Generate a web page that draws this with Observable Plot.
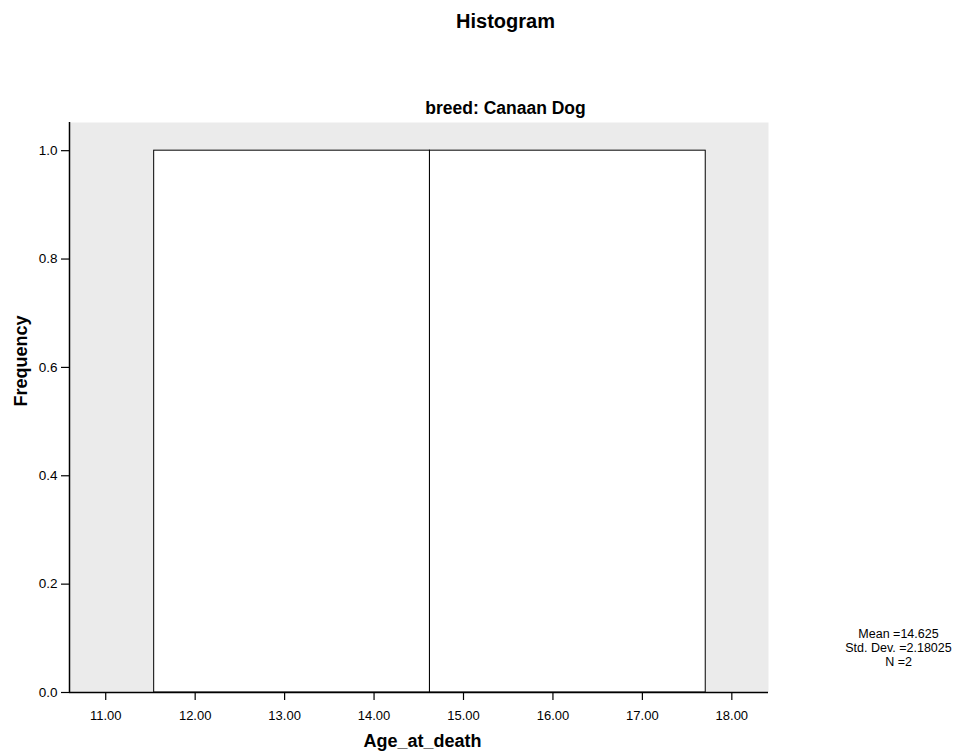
<!DOCTYPE html>
<html>
<head>
<meta charset="utf-8">
<script src="https://cdn.jsdelivr.net/npm/d3@7"></script>
<script src="https://cdn.jsdelivr.net/npm/@observablehq/plot@0.6"></script>
<style>
  html, body { margin: 0; padding: 0; background: #ffffff; }
</style>
</head>
<body>
<div id="chart"></div>
<script>
// ---- data ----
const title = "Histogram";
const panelLabel = "breed: Canaan Dog";
const xLabel = "Age_at_death";
const yLabel = "Frequency";
const binStart = [11.5417, 14.625];
const binEnd = [14.625, 17.7083];
const frequency = [1, 1];
const xTicks = [11, 12, 13, 14, 15, 16, 17, 18];
const yTicks = [0, 0.2, 0.4, 0.6, 0.8, 1.0];
const xDomain = [10.595, 18.41];
const yDomain = [0, 1.052];
const statMean = "14.625";
const statSD = "2.18025";
const statN = "2";

const bins = binStart.map((s, i) => ({x1: s, x2: binEnd[i], y: frequency[i]}));
const statsText = `Mean =${statMean}\nStd. Dev. =${statSD}\nN =${statN}`;
const FONT = "'Liberation Sans', Arial, Helvetica, sans-serif";

const chart = Plot.plot({
  width: 969,
  height: 751,
  marginLeft: 69,
  marginRight: 201,
  marginTop: 122,
  marginBottom: 59,
  style: {fontFamily: FONT, fontSize: "13px", color: "#000", background: "#fff"},
  x: {domain: xDomain, ticks: xTicks, tickFormat: d3.format(".2f"), label: null},
  y: {domain: yDomain, ticks: yTicks, tickFormat: d3.format(".1f"), label: null},
  marks: [
    Plot.frame({fill: "#ebebeb", stroke: null}),
    Plot.rectY(bins, {x1: "x1", x2: "x2", y1: 0, y2: "y", fill: "#ffffff", stroke: "#000", strokeWidth: 1, inset: 0}),
    Plot.axisX({ticks: xTicks, tickFormat: d3.format(".2f"), tickSize: 8, tickPadding: 10, fontSize: 13, label: null, stroke: "#000", strokeWidth: 1.2}),
    Plot.axisY({ticks: yTicks, tickFormat: d3.format(".1f"), tickSize: 8, tickPadding: 4, fontSize: 13.5, label: null, stroke: "#000", strokeWidth: 1.2}),
    Plot.ruleX([xDomain[0]], {stroke: "#000", strokeWidth: 1.5}),
    Plot.ruleY([0], {stroke: "#000", strokeWidth: 1.5}),
    Plot.text([title], {frameAnchor: "top", dx: 86.5, dy: -95, lineAnchor: "bottom", fontSize: 20, fontWeight: "bold", fill: "#000"}),
    Plot.text([panelLabel], {frameAnchor: "top", dx: 86.5, dy: -9, lineAnchor: "bottom", fontSize: 17.5, fontWeight: "bold", fill: "#000"}),
    Plot.text([yLabel], {frameAnchor: "left", rotate: -90, dx: -43, dy: -1, lineAnchor: "bottom", fontSize: 18, fontWeight: "bold", fill: "#000"}),
    Plot.text([xLabel], {frameAnchor: "bottom", dx: 3.5, dy: 54, lineAnchor: "bottom", fontSize: 18, fontWeight: "bold", fill: "#000"}),
    Plot.text([statsText], {frameAnchor: "bottom-right", dx: 130, dy: -27, lineAnchor: "bottom", textAnchor: "middle", lineHeight: 1.12, fontSize: 12.5, fill: "#000"})
  ]
});
document.getElementById("chart").appendChild(chart);
</script>
</body>
</html>
